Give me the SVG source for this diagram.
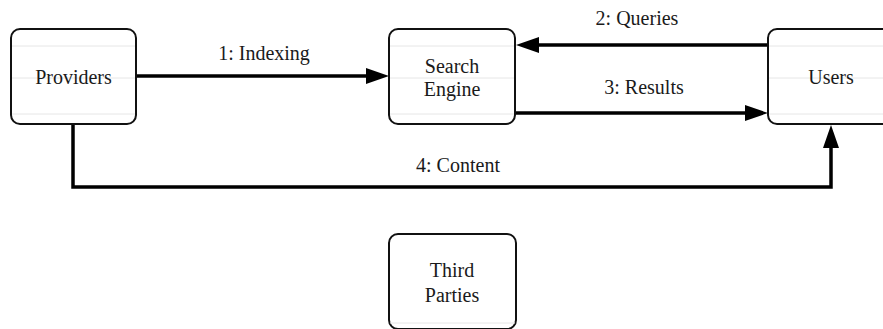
<svg xmlns="http://www.w3.org/2000/svg" width="883" height="329" viewBox="0 0 883 329">
<style>
.box{fill:#fff;stroke:#111;stroke-width:2}
.faint{stroke:#e6e6e6;stroke-width:1}
.lbl{font-size:20px;fill:#1a1a1a;text-anchor:middle}
.edge{fill:none;stroke:#000;stroke-width:3.5}
</style>
<defs>
<marker id="arr" markerUnits="userSpaceOnUse" markerWidth="23" markerHeight="16" refX="13" refY="8" orient="auto">
<path d="M0,0 L23,8 L0,16 z" fill="#000"/>
</marker>
</defs>
<rect width="883" height="329" fill="#fff"/>
<g font-family="'Liberation Serif', 'DejaVu Serif', serif">
<g id="connectors">
<path class="edge" d="M137,76 H379" marker-end="url(#arr)"/>
<path class="edge" d="M768,45 H526" marker-end="url(#arr)"/>
<path class="edge" d="M515,113 H758" marker-end="url(#arr)"/>
<path class="edge" d="M73,124 V187 H831 V135" marker-end="url(#arr)"/>
<text class="lbl" x="264" y="60">1: Indexing</text>
<text class="lbl" x="637" y="25">2: Queries</text>
<text class="lbl" x="644" y="94">3: Results</text>
<text class="lbl" x="458" y="172">4: Content</text>
</g>
<g id="providers">
<rect class="box" x="11" y="29" width="125" height="95" rx="9"/>
<line class="faint" x1="12" y1="46" x2="135" y2="46"/>
<line class="faint" x1="12" y1="78" x2="135" y2="78"/>
<line class="faint" x1="12" y1="114" x2="135" y2="114"/>
<text class="lbl" x="73.5" y="84">Providers</text>
</g>
<g id="search-engine">
<rect class="box" x="389" y="29" width="126" height="95" rx="9"/>
<line class="faint" x1="390" y1="46" x2="514" y2="46"/>
<line class="faint" x1="390" y1="78" x2="514" y2="78"/>
<line class="faint" x1="390" y1="114" x2="514" y2="114"/>
<text class="lbl" x="452" y="73">Search</text>
<text class="lbl" x="452" y="96">Engine</text>
</g>
<g id="users">
<rect class="box" x="768" y="29" width="126" height="95" rx="9"/>
<line class="faint" x1="769" y1="46" x2="883" y2="46"/>
<line class="faint" x1="769" y1="78" x2="883" y2="78"/>
<line class="faint" x1="769" y1="114" x2="883" y2="114"/>
<text class="lbl" x="831" y="84">Users</text>
</g>
<g id="third-parties">
<rect class="box" x="389" y="234" width="127" height="95" rx="9"/>
<line class="faint" x1="390" y1="323" x2="515" y2="323"/>
<text class="lbl" x="452" y="277">Third</text>
<text class="lbl" x="452" y="302">Parties</text>
</g>
</g>
</svg>
